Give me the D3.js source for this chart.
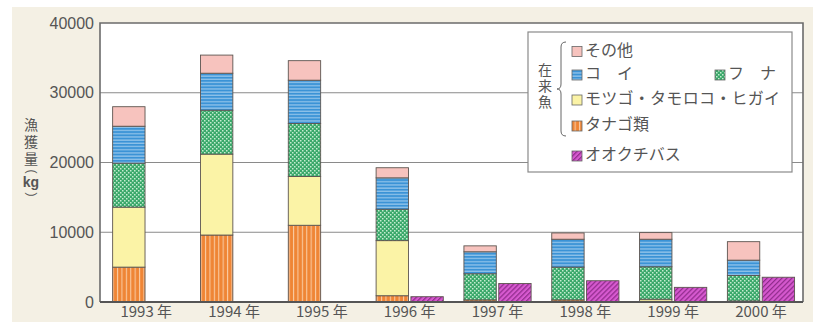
<!DOCTYPE html>
<html><head><meta charset="utf-8">
<script src="https://cdn.jsdelivr.net/npm/d3@7"></script>
<style>
html,body{margin:0;padding:0;background:#fff;}
svg text{font-family:"Noto Sans CJK JP","Noto Sans",sans-serif;fill:#555;}
</style></head>
<body><svg id="c" width="815" height="322"></svg>
<script>
const years = ["1993","1994","1995","1996","1997","1998","1999","2000"];
const tanago  = [5000, 9600, 11000, 900, 300, 300, 100, 150];
const motsugo = [8600, 11600, 7000, 7900, 0, 0, 300, 0];
const funa    = [6300, 6300, 7600, 4500, 3750, 4700, 4650, 3650];
const koi     = [5300, 5300, 6200, 4500, 3150, 4000, 3950, 2200];
const other   = [2800, 2600, 2800, 1450, 850, 900, 950, 2650];
const bass    = [0, 0, 0, 760, 2650, 3050, 2100, 3550];
const yTicks  = [0, 10000, 20000, 30000, 40000];
const seriesKeys = ["tanago","motsugo","funa","koi","other"];
const seriesData = {tanago, motsugo, funa, koi, other};

const svg = d3.select("#c");
const M = {l:100, r:803, t:23, b:302};

svg.append("rect").attr("x",12).attr("y",7).attr("width",801).attr("height",315).attr("fill","#f4f0e4");

const defs = svg.append("defs");
let p = defs.append("pattern").attr("id","pTanago").attr("patternUnits","userSpaceOnUse").attr("width",4.4).attr("height",4);
p.append("rect").attr("width",4.4).attr("height",4).attr("fill","#ef8535");
p.append("rect").attr("x",2.6).attr("width",1.1).attr("height",4).attr("fill","#f9c9a0");
p = defs.append("pattern").attr("id","pKoi").attr("patternUnits","userSpaceOnUse").attr("width",4).attr("height",3.2);
p.append("rect").attr("width",4).attr("height",3.2).attr("fill","#3b93d6");
p.append("rect").attr("y",2).attr("width",4).attr("height",1).attr("fill","#a9d2f0");
p = defs.append("pattern").attr("id","pFuna").attr("patternUnits","userSpaceOnUse").attr("width",4).attr("height",4);
p.append("rect").attr("width",4).attr("height",4).attr("fill","#3aa86a");
p.append("rect").attr("x",0).attr("y",0).attr("width",1.5).attr("height",1.5).attr("fill","#c4ecd0");
p.append("rect").attr("x",2).attr("y",2).attr("width",1.5).attr("height",1.5).attr("fill","#c4ecd0");
p = defs.append("pattern").attr("id","pBass").attr("patternUnits","userSpaceOnUse").attr("width",3.5).attr("height",3.5).attr("patternTransform","rotate(45)");
p.append("rect").attr("width",3.5).attr("height",3.5).attr("fill","#d659cf");
p.append("rect").attr("width",1.2).attr("height",3.5).attr("fill","#8e2a8a");

const fills = {tanago:"url(#pTanago)", motsugo:"#fbf3a6", funa:"url(#pFuna)", koi:"url(#pKoi)", other:"#f7c3be", bass:"url(#pBass)"};

svg.append("rect").attr("x",M.l).attr("y",M.t).attr("width",M.r-M.l).attr("height",M.b-M.t).attr("fill","#fff");

const y = d3.scaleLinear().domain([0,40000]).range([M.b, M.t]);
const x = d3.scaleBand().domain(years).range([M.l, M.r]).paddingInner(0.235).paddingOuter(0.12).align(0.6);
const xs = d3.scaleBand().domain(["native","bass"]).range([0, x.bandwidth()]).paddingInner(0.07);

svg.append("g").selectAll("line").data(yTicks.filter(d=>d>0&&d<40000)).join("line")
  .attr("x1",M.l).attr("x2",M.r).attr("y1",d=>y(d)).attr("y2",d=>y(d))
  .attr("stroke","#8a8a8a").attr("stroke-width",1.2);

const table = years.map((yr,i)=>{const o={year:yr}; seriesKeys.forEach(k=>o[k]=seriesData[k][i]); return o;});
const stack = d3.stack().keys(seriesKeys)(table);
const g = svg.append("g");
stack.forEach(s=>{
  g.append("g").selectAll("rect").data(s).join("rect")
    .attr("x",d=>x(d.data.year)+xs("native"))
    .attr("width",xs.bandwidth())
    .attr("y",d=>y(d[1]))
    .attr("height",d=>Math.max(0,y(d[0])-y(d[1])))
    .attr("fill",fills[s.key])
    .attr("stroke",d=>(d[1]-d[0])>0?"#5d5550":"none").attr("stroke-width",0.9);
});
g.append("g").selectAll("rect").data(years.map((yr,i)=>({year:yr,v:bass[i]})).filter(d=>d.v>0)).join("rect")
  .attr("x",d=>x(d.year)+xs("bass")).attr("width",xs.bandwidth())
  .attr("y",d=>y(d.v)).attr("height",d=>y(0)-y(d.v))
  .attr("fill",fills.bass).attr("stroke","#5d5550").attr("stroke-width",0.9);

svg.append("path").attr("d",`M${M.l},${M.b}V${M.t}H${M.r}V${M.b}`).attr("fill","none").attr("stroke","#6b6b6b").attr("stroke-width",1.6);
svg.append("line").attr("x1",M.l).attr("x2",M.r).attr("y1",M.b).attr("y2",M.b).attr("stroke","#555").attr("stroke-width",1.8);

const yAxis = d3.axisLeft(y).tickValues(yTicks).tickSize(0).tickPadding(6).tickFormat(d3.format("d"));
const ya = svg.append("g").attr("transform",`translate(${M.l},0)`).call(yAxis);
ya.select(".domain").remove();
ya.selectAll("text").attr("font-size",16).attr("fill","#555").style("font-family","'Liberation Sans','DejaVu Sans',sans-serif");

const xAxis = d3.axisBottom(x).tickSize(0).tickPadding(4).tickFormat(d=>d+" 年");
const xa = svg.append("g").attr("transform",`translate(0,${M.b})`).call(xAxis);
xa.select(".domain").remove();
xa.selectAll("text").attr("font-size",15).attr("fill","#555");

// y title (vertical)
svg.append("text").attr("x",31).attr("y",118)
  .style("writing-mode","vertical-rl").style("letter-spacing","3px")
  .attr("font-size",14).attr("fill","#555").text("漁獲量");
svg.append("text").attr("x",31).attr("y",183).attr("text-anchor","middle").attr("dominant-baseline","middle")
  .attr("font-size",14).attr("font-weight","bold").attr("fill","#555")
  .style("font-family","'Liberation Sans',sans-serif").text("kg");
svg.append("g").selectAll("text").data([["(",171.5],[")",194.5]]).join("text")
  .attr("transform",d=>`translate(31,${d[1]}) rotate(90)`)
  .attr("text-anchor","middle").attr("dominant-baseline","middle")
  .attr("font-size",12).attr("fill","#555")
  .style("font-family","'Liberation Sans',sans-serif")
  .text(d=>d[0]);

// legend
const lg = svg.append("g");
lg.append("rect").attr("x",528).attr("y",32).attr("width",264).attr("height",140).attr("fill","#fff").attr("stroke","#8a8a8a").attr("stroke-width",1.2);
const legendItems = [
  {k:"other", label:"その他", x:572, y:51.5},
  {k:"koi", label:"コ　イ", x:572, y:75},
  {k:"funa", label:"フ　ナ", x:715, y:75},
  {k:"motsugo", label:"モツゴ・タモロコ・ヒガイ", x:572, y:100},
  {k:"tanago", label:"タナゴ類", x:572, y:126},
  {k:"bass", label:"オオクチバス", x:572, y:156},
];
const li = lg.selectAll("g.li").data(legendItems).join("g").attr("class","li");
li.append("rect").attr("x",d=>d.x).attr("y",d=>d.y-5).attr("width",10).attr("height",10).attr("fill",d=>fills[d.k]).attr("stroke","#666").attr("stroke-width",0.8);
li.append("text").attr("x",d=>d.x+13).attr("y",d=>d.y).attr("dominant-baseline","middle").attr("font-size",16)
  .attr("textLength",d=>d.k==="motsugo"?195:null).text(d=>d.label);
svg.append("text").attr("x",545).attr("y",63)
  .style("writing-mode","vertical-rl").style("letter-spacing","2px")
  .attr("font-size",14).attr("fill","#555").text("在来魚");
svg.append("path").attr("d","M566,42 Q561,42 561,47 L561,84 Q561,89 557,89 Q561,89 561,94 L561,131 Q561,136 566,136")
  .attr("fill","none").attr("stroke","#666").attr("stroke-width",1);
</script></body></html>
